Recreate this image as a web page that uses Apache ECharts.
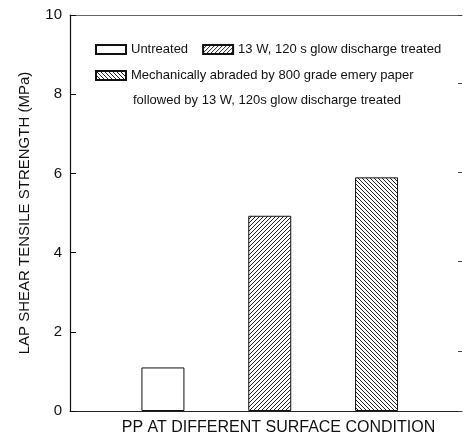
<!DOCTYPE html>
<html>
<head>
<meta charset="utf-8">
<script src="https://cdn.jsdelivr.net/npm/echarts@6/dist/echarts.min.js"></script>
<style>html,body{margin:0;padding:0;background:#fff}#c{width:465px;height:442px}</style>
</head>
<body>
<div id="c"></div>
<script>
// ---- data ----
const categories = [
  'Untreated',
  '13 W, 120 s glow discharge treated',
  'Mechanically abraded by 800 grade emery paper\nfollowed by 13 W, 120s glow discharge treated'
];
const values = [1.1, 4.93, 5.9];
const yMin = 0, yMax = 10, yInterval = 2;
const yName = 'LAP SHEAR TENSILE STRENGTH (MPa)';
const xName = 'PP AT DIFFERENT SURFACE CONDITION';

// ---- hatch patterns ----
function hatch(dir) {
  const s = 4, c = document.createElement('canvas');
  c.width = s; c.height = s;
  const g = c.getContext('2d');
  g.fillStyle = '#fff'; g.fillRect(0, 0, s, s);
  g.strokeStyle = '#222'; g.lineWidth = 1;
  g.beginPath();
  if (dir === '/') {
    g.moveTo(-1, 1); g.lineTo(1, -1);
    g.moveTo(0, s); g.lineTo(s, 0);
    g.moveTo(s - 1, s + 1); g.lineTo(s + 1, s - 1);
  } else {
    g.moveTo(-1, s - 1); g.lineTo(1, s + 1);
    g.moveTo(0, 0); g.lineTo(s, s);
    g.moveTo(s - 1, -1); g.lineTo(s + 1, 1);
  }
  g.stroke();
  return { image: c, repeat: 'repeat' };
}
const fills = ['#ffffff', hatch('/'), hatch('\\')];

const font = 'Liberation Sans';
const chart = echarts.init(document.getElementById('c'), null, { renderer: 'canvas' });

const series = categories.map((name, i) => ({
  name: name,
  type: 'bar',
  stack: 'all',
  barWidth: 43,
  data: [[i + 1, values[i]]],
  itemStyle: { color: fills[i], borderColor: '#111', borderWidth: 1 },
  animation: false
}));

const legendText = { fontFamily: font, fontSize: 13, color: '#111' };

chart.setOption({
  animation: false,
  backgroundColor: '#fff',
  grid: { left: 70, right: 3, top: 15, bottom: 31 },
  title: {
    text: categories[2].split('\n')[1],
    left: 133, top: 94, padding: 0,
    textStyle: { fontFamily: font, fontSize: 13, fontWeight: 'normal', color: '#111' }
  },
  legend: [
    {
      data: [categories[0], categories[1]],
      left: 95, top: 43, padding: 0, orient: 'horizontal',
      icon: 'rect', itemWidth: 30, itemHeight: 9, itemGap: 14,
      textStyle: legendText, selectedMode: false
    },
    {
      data: [categories[2]],
      left: 95, top: 69, padding: 0,
      icon: 'rect', itemWidth: 30, itemHeight: 9,
      formatter: n => n.split('\n')[0],
      textStyle: legendText, selectedMode: false
    }
  ],
  xAxis: [
    {
      type: 'value', min: 0.13, max: 3.8, position: 'bottom',
      axisLine: { show: true, onZero: false, lineStyle: { color: '#222', width: 1 } },
      axisTick: { show: false }, axisLabel: { show: false }, splitLine: { show: false },
      name: xName, nameLocation: 'middle', nameGap: 9,
      nameTextStyle: { fontFamily: font, fontSize: 16, color: '#111', padding: [0, 0, 0, 25] }
    },
    {
      type: 'value', min: 0.13, max: 3.8, position: 'top',
      axisLine: { show: true, onZero: false, lineStyle: { color: '#666', width: 1 } },
      axisTick: { show: false }, axisLabel: { show: false }, splitLine: { show: false }
    }
  ],
  yAxis: [
    {
      type: 'value', min: yMin, max: yMax, interval: yInterval, position: 'left',
      axisLine: { show: true, onZero: false, lineStyle: { color: '#111', width: 1.2 } },
      axisTick: { show: true, inside: true, length: 6, lineStyle: { color: '#111' } },
      axisLabel: { fontFamily: font, fontSize: 15, color: '#111', margin: 8 },
      splitLine: { show: false },
      name: yName, nameLocation: 'middle', nameGap: 38, nameRotate: 90,
      nameTextStyle: { fontFamily: font, fontSize: 15, color: '#111' }
    },
    {
      type: 'value', min: -0.67, max: 3.76, splitNumber: 4, position: 'right',
      axisLine: { show: false, onZero: false },
      axisTick: { show: true, inside: true, length: 4, lineStyle: { color: '#444' } },
      axisLabel: { show: false }, splitLine: { show: false }
    }
  ],
  series: series
});
</script>
</body>
</html>
